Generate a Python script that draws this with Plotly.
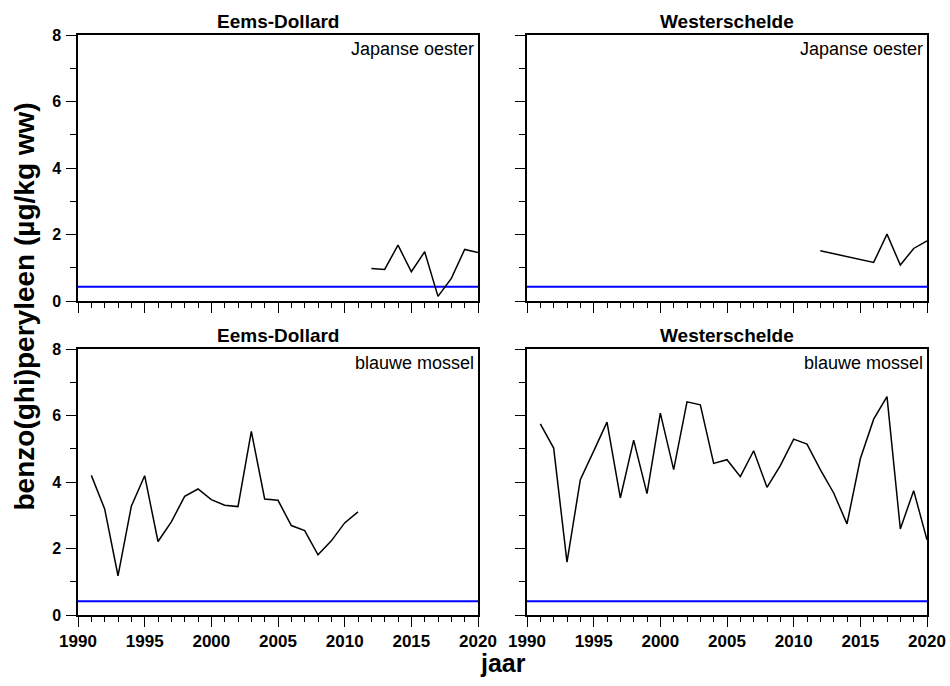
import plotly.graph_objects as go

# ---- data ----
ed_oester_years = [2012, 2013, 2014, 2015, 2016, 2017, 2018, 2019, 2020]
ed_oester_vals = [0.98, 0.95, 1.68, 0.88, 1.48, 0.14, 0.68, 1.55, 1.46]

ws_oester_years = [2012, 2016, 2017, 2018, 2019, 2020]
ws_oester_vals = [1.51, 1.16, 2.01, 1.08, 1.58, 1.81]

ed_mossel_years = list(range(1991, 2012))
ed_mossel_vals = [4.20, 3.19, 1.18, 3.27, 4.19, 2.21, 2.80, 3.57, 3.79, 3.47,
                  3.30, 3.26, 5.52, 3.49, 3.45, 2.69, 2.54, 1.81, 2.23, 2.77, 3.10]

ws_mossel_years = list(range(1991, 2021))
ws_mossel_vals = [5.75, 5.02, 1.59, 4.07, 4.93, 5.80, 3.52, 5.26, 3.65, 6.07,
                  4.37, 6.41, 6.32, 4.56, 4.67, 4.16, 4.94, 3.84, 4.49, 5.29,
                  5.14, 4.37, 3.67, 2.74, 4.70, 5.89, 6.57, 2.59, 3.74, 2.26]

threshold_top = 0.43
threshold_bottom = 0.41
year_span = [1990, 2020]

panel_titles = ["Eems-Dollard", "Westerschelde", "Eems-Dollard", "Westerschelde"]
species_labels = ["Japanse oester", "Japanse oester", "blauwe mossel", "blauwe mossel"]
x_tick_vals = [1990, 1995, 2000, 2005, 2010, 2015, 2020]
y_tick_vals = [0, 2, 4, 6, 8]

# ---- figure ----
W, H = 950, 686
ml, mt = 78, 35
mr = W - 927
mb = H - 615
pw = W - ml - mr
ph = H - mt - mb

xd_left = [0, 400 / pw]
xd_right = [449 / pw, 1]
yd_bottom = [0, 266 / ph]
yd_top = [(H - mb - 301) / ph, 1]

fig = go.Figure()

panels = [
    (ed_oester_years, ed_oester_vals, threshold_top, "x", "y", xd_left, yd_top, False, True),
    (ws_oester_years, ws_oester_vals, threshold_top, "x2", "y2", xd_right, yd_top, False, False),
    (ed_mossel_years, ed_mossel_vals, threshold_bottom, "x3", "y3", xd_left, yd_bottom, True, True),
    (ws_mossel_years, ws_mossel_vals, threshold_bottom, "x4", "y4", xd_right, yd_bottom, True, False),
]

font_family = "Liberation Sans, Arial, sans-serif"

for i, (xs, ys, thr, xa, ya, xd, yd, showx, showy) in enumerate(panels):
    fig.add_trace(go.Scatter(x=year_span, y=[thr, thr], mode="lines",
                             line=dict(color="#0000ff", width=2),
                             xaxis=xa, yaxis=ya, showlegend=False, hoverinfo="skip"))
    fig.add_trace(go.Scatter(x=xs, y=ys, mode="lines",
                             line=dict(color="black", width=1.5),
                             xaxis=xa, yaxis=ya, showlegend=False))
    n = "" if i == 0 else str(i + 1)
    fig.layout["xaxis" + n] = dict(
        domain=xd, range=year_span, anchor=ya,
        tickvals=x_tick_vals, ticks="outside", ticklen=10, tickwidth=1.2,
        tickcolor="black", showticklabels=showx,
        tickfont=dict(family=font_family, size=17, color="black", weight="bold"),
        minor=dict(dtick=1, tick0=1990, ticks="outside", ticklen=5, tickwidth=1.2, tickcolor="black"),
        showline=True, linecolor="black", linewidth=1.5, mirror=True,
        showgrid=False, zeroline=False, fixedrange=True,
    )
    fig.layout["yaxis" + n] = dict(
        domain=yd, range=[0, 8], anchor=xa,
        tickvals=y_tick_vals, ticks="outside", ticklen=10, tickwidth=1.2,
        tickcolor="black", showticklabels=showy, ticklabelstandoff=2,
        tickfont=dict(family=font_family, size=16, color="black", weight="bold"),
        minor=dict(dtick=1, tick0=0, ticks="outside", ticklen=6, tickwidth=1.2, tickcolor="black"),
        showline=True, linecolor="black", linewidth=1.5, mirror=True,
        showgrid=False, zeroline=False, fixedrange=True,
    )
    fig.add_annotation(text=panel_titles[i], xref=xa + " domain", yref=ya + " domain",
                       x=0.5, y=1.0, xanchor="center", yanchor="bottom", yshift=1,
                       showarrow=False,
                       font=dict(family=font_family, size=19, color="black", weight="bold"))
    fig.add_annotation(text=species_labels[i], xref=xa + " domain", yref=ya + " domain",
                       x=1.0, y=1.0, xanchor="right", yanchor="top", xshift=-2, yshift=-2,
                       showarrow=False,
                       font=dict(family=font_family, size=18, color="black"))

fig.add_annotation(text="benzo(ghi)peryleen (µg/kg ww)", xref="paper", yref="paper",
                   x=(24 - ml) / pw, y=(H - mb - 306.5) / ph, xanchor="center", yanchor="middle",
                   textangle=-90, showarrow=False,
                   font=dict(family=font_family, size=28, color="black", weight="bold"))
fig.add_annotation(text="jaar", xref="paper", yref="paper",
                   x=(503 - ml) / pw, y=-(663 - (H - mb)) / ph, xanchor="center", yanchor="middle",
                   showarrow=False,
                   font=dict(family=font_family, size=25, color="black", weight="bold"))

fig.update_layout(width=W, height=H, margin=dict(l=ml, r=mr, t=mt, b=mb, autoexpand=False),
                  plot_bgcolor="white", paper_bgcolor="white",
                  font=dict(family=font_family, color="black"))

fig.write_html("out.html",
               config={"displayModeBar": False},
               post_script="document.body.style.margin='0';"
                           "document.documentElement.style.overflow='hidden';")
